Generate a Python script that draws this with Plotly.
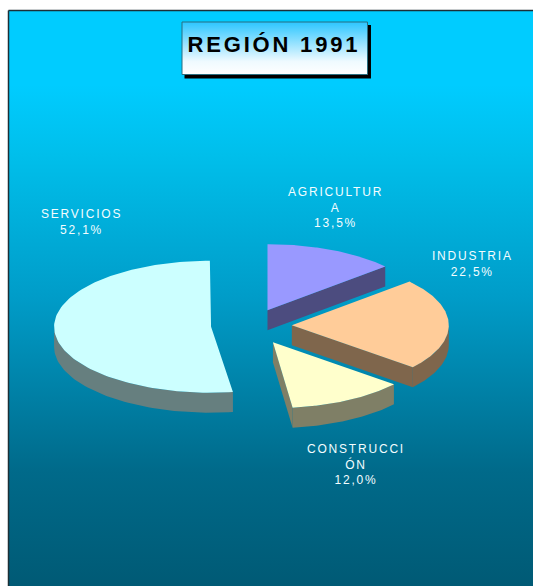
import numpy as np
import plotly.graph_objects as go

categories = ["SERVICIOS", "AGRICULTURA", "INDUSTRIA", "CONSTRUCCIÓN"]
shares = [52.1, 13.5, 22.5, 12.0]
start_angles = [172.0, 0.0, 48.6, 129.6]
explode = [0.255, 0.255, 0.26, 0.29]
label_texts = ["SERVICIOS<br>52,1%", "AGRICULTUR<br>A<br>13,5%", "INDUSTRIA<br>22,5%", "CONSTRUCCI<br>ÓN<br>12,0%"]
label_x = [81, 335, 472, 356]
label_y = [222, 207, 264, 464]
top_colors = ["#CCFFFF", "#9999FF", "#FFCC99", "#FFFFCC"]
wall_colors = ["#667F7F", "#4C4C7F", "#7F664C", "#7F7F66"]
title_text = "REGIÓN 1991"

CX, CY, RX, RY, DEPTH = 251.0, 325.5, 157.0, 66.0, 20.0

fig = go.Figure()

def poly(xs, ys, color, name):
    fig.add_trace(go.Scatter(x=list(xs), y=list(ys), mode="lines", fill="toself", fillcolor=color,
                             line=dict(width=0, color=color), hoverinfo="skip", name=name, showlegend=False))

def pt(cx, cy, deg):
    r = np.radians(deg)
    return cx + RX * np.sin(r), cy - RY * np.cos(r)

# background
fig.add_trace(go.Scatter(x=[8.5, 540, 540, 8.5, 8.5], y=[10.5, 10.5, 590, 590, 10.5], mode="lines",
                         fill="toself", line=dict(color="#1c2f36", width=1.5), hoverinfo="skip", showlegend=False,
                         fillgradient=dict(type="vertical", start=586, stop=10,
                                           colorscale=[[0, "#005A75"], [0.2, "#006A8A"], [0.5, "#009CC8"], [0.75, "#00BFEB"], [0.87, "#00CCFF"], [1, "#00CCFF"]])))

# title box
fig.add_trace(go.Scatter(x=[184.5, 371, 371, 184.5, 184.5], y=[25, 25, 78.5, 78.5, 25], mode="lines", fill="toself",
                         fillcolor="#000000", line=dict(width=0), hoverinfo="skip", showlegend=False))
fig.add_trace(go.Scatter(x=[182, 367.5, 367.5, 182, 182], y=[22, 22, 74.5, 74.5, 22], mode="lines", fill="toself",
                         line=dict(color="#2b6f80", width=1), hoverinfo="skip", showlegend=False,
                         fillgradient=dict(type="vertical", start=74.5, stop=22,
                                           colorscale=[[0, "#FFFFFF"], [0.25, "#EFFAFF"], [1, "#2CC6FF"]])))

# slices, back to front
for i in [0, 1, 2, 3]:
    a0 = start_angles[i]
    a1 = a0 + shares[i] * 3.6
    mid = np.radians((a0 + a1) / 2)
    cx = CX + explode[i] * RX * np.sin(mid)
    cy = CY - explode[i] * RY * np.cos(mid)
    # outer rim wall: front half only
    lo, hi = max(a0, 90), min(a1, 270)
    if hi > lo:
        th = np.linspace(lo, hi, 60)
        xs, ys = pt(cx, cy, th)
        poly(np.r_[xs, xs[::-1]], np.r_[ys, ys[::-1] + DEPTH], wall_colors[i], categories[i] + " rim")
    # cut face at the clockwise end when it faces the viewer
    if 90 < (a1 + 90) % 360 < 270:
        x1, y1 = pt(cx, cy, a1)
        poly([cx, x1, x1, cx, cx], [cy, y1, y1 + DEPTH, cy + DEPTH, cy], wall_colors[i], categories[i] + " cut")
    th = np.linspace(a0, a1, 120)
    xs, ys = pt(cx, cy, th)
    poly(np.r_[cx, xs, cx], np.r_[cy, ys, cy], top_colors[i], categories[i])

ann = [dict(x=x, y=y, text=t, showarrow=False, xref="x", yref="y", align="center",
            font=dict(family="Liberation Sans", size=12, color="#F4FDFF"))
       for x, y, t in zip(label_x, label_y, label_texts)]
ann.append(dict(x=273.5, y=44, text="<b>%s</b>" % title_text, showarrow=False, xref="x", yref="y",
                font=dict(family="Liberation Sans", size=22, color="#000000")))

fig.update_layout(width=533, height=586, margin=dict(l=0, r=0, t=0, b=0), paper_bgcolor="white", plot_bgcolor="white",
                  showlegend=False, annotations=ann,
                  xaxis=dict(range=[0, 533], visible=False, fixedrange=True),
                  yaxis=dict(range=[586, 0], visible=False, fixedrange=True))

spacing_js = """
document.body.style.margin = '0';
document.body.style.overflow = 'hidden';
document.querySelectorAll('.annotation-text').forEach(function(t){
  var big = parseFloat(t.style.fontSize) > 20;
  t.style.letterSpacing = big ? '2.8px' : '1.8px';
});
"""
fig.write_html("out.html", config=dict(displayModeBar=False), post_script=spacing_js)
